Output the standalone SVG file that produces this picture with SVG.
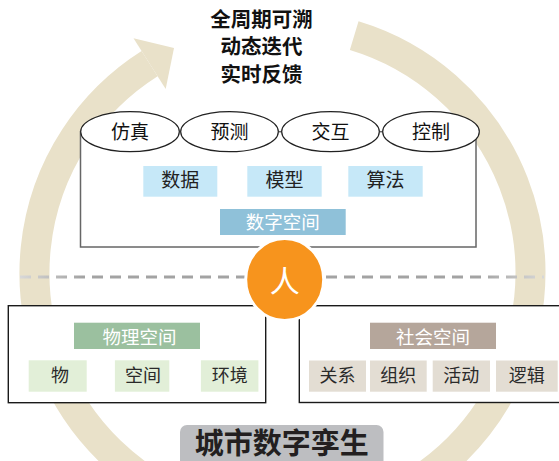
<svg xmlns="http://www.w3.org/2000/svg" width="559" height="461" viewBox="0 0 559 461">
<defs>
<linearGradient id="dashGrad" x1="20" y1="0" x2="544" y2="0" gradientUnits="userSpaceOnUse">
<stop offset="0" stop-color="#d8d8d8"/>
<stop offset="0.12" stop-color="#a3a3a3"/>
<stop offset="0.88" stop-color="#a3a3a3"/>
<stop offset="1" stop-color="#d8d8d8"/>
</linearGradient>
</defs>
<style>
.cjk{font-family:"Noto Sans CJK SC","Noto Sans",sans-serif;}
.head{font-size:20.5px;font-weight:bold;fill:#111;text-anchor:middle;}
.ell{fill:#fff;stroke:#222;stroke-width:1.2;}
.elt{font-size:19px;fill:#111;text-anchor:middle;}
.blue{fill:#c6e8f8;}
.bt{font-size:19px;fill:#222;text-anchor:middle;}
.hdr{font-size:18.5px;fill:#fff;text-anchor:middle;}
.box{fill:#fff;stroke:#1a1a1a;stroke-width:1.4;}
.grn{fill:#e2efd8;}
.tau{fill:#e3ddd3;}
.it{font-size:18px;fill:#2a2a2a;text-anchor:middle;}
</style>
<g id="ring">
<path d="M 354.2 35.6 A 248 248 0 1 1 149.6 63.6" fill="none" stroke="#e9e1c9" stroke-width="30"/>
<polygon points="133.5,38.3 174,48 165.7,88.9" fill="#e9e1c9"/>
</g>
<g id="header" class="cjk">
<text class="head" x="261.5" y="26.5">全周期可溯</text>
<text class="head" x="261.5" y="54">动态迭代</text>
<text class="head" x="261.5" y="81.5">实时反馈</text>
</g>
<g id="digital-space">
<rect x="80.5" y="131.7" width="395.5" height="115.3" fill="#fff" stroke="#666" stroke-width="1.5"/>
</g>
<g id="node-fangzhen"><ellipse class="ell" cx="130" cy="131.7" rx="49.3" ry="20"/><text class="cjk elt" x="130" y="139.3">仿真</text></g>
<g id="node-yuce"><ellipse class="ell" cx="229.5" cy="131.7" rx="48.8" ry="20"/><text class="cjk elt" x="229.5" y="139.3">预测</text></g>
<g id="node-jiaohu"><ellipse class="ell" cx="330.5" cy="131.7" rx="48.8" ry="20"/><text class="cjk elt" x="330.5" y="139.3">交互</text></g>
<g id="node-kongzhi"><ellipse class="ell" cx="431" cy="131.7" rx="48.3" ry="20"/><text class="cjk elt" x="431" y="139.3">控制</text></g>
<g id="node-shuju"><rect class="blue" x="143.3" y="166" width="74" height="30.7"/><text class="cjk bt" x="180.3" y="187">数据</text></g>
<g id="node-moxing"><rect class="blue" x="247.3" y="166" width="74.4" height="30.7"/><text class="cjk bt" x="284.5" y="187">模型</text></g>
<g id="node-suanfa"><rect class="blue" x="348.3" y="166" width="74.4" height="30.7"/><text class="cjk bt" x="385.5" y="187">算法</text></g>
<g id="node-shuzikongjian"><rect x="220" y="209" width="125.7" height="26" fill="#8fc1d9"/><text class="cjk hdr" x="282.8" y="228.5">数字空间</text></g>
<g id="connectors">
<line x1="20" y1="277" x2="544" y2="277" stroke="url(#dashGrad)" stroke-width="3" stroke-dasharray="11 7"/>
</g>
<g id="physical-space">
<rect class="box" x="8.3" y="305.7" width="257.4" height="97"/>
<rect x="74" y="322.7" width="126" height="26.3" fill="#9bc09f"/>
<text class="cjk hdr" x="139.5" y="343.5">物理空间</text>
</g>
<g id="node-wu"><rect class="grn" x="28.7" y="360.3" width="58" height="31.4"/><text class="cjk it" x="60" y="382">物</text></g>
<g id="node-kongjian"><rect class="grn" x="114.9" y="360.3" width="54.4" height="31.4"/><text class="cjk it" x="143" y="382">空间</text></g>
<g id="node-huanjing"><rect class="grn" x="200.9" y="360.3" width="57.5" height="31.4"/><text class="cjk it" x="229.7" y="382">环境</text></g>
<g id="social-space">
<rect class="box" x="299.3" y="305.7" width="270" height="96.8"/>
<rect x="370" y="322.7" width="126" height="26.3" fill="#b5a69b"/>
<text class="cjk hdr" x="433" y="343.5">社会空间</text>
</g>
<g id="node-guanxi"><rect class="tau" x="309" y="360.5" width="57" height="31.2"/><text class="cjk it" x="337.5" y="382">关系</text></g>
<g id="node-zuzhi"><rect class="tau" x="370" y="360.5" width="56.7" height="31.2"/><text class="cjk it" x="398.3" y="382">组织</text></g>
<g id="node-huodong"><rect class="tau" x="432.7" y="360.5" width="57.3" height="31.2"/><text class="cjk it" x="461.3" y="382">活动</text></g>
<g id="node-luoji"><rect class="tau" x="496" y="360.5" width="61.7" height="31.2"/><text class="cjk it" x="526.8" y="382">逻辑</text></g>
<g id="node-ren">
<ellipse cx="284.7" cy="279.5" rx="39" ry="41" fill="#f7941d" stroke="#fff" stroke-width="3"/>
<text class="cjk" x="284.7" y="292" font-size="30" fill="#fff" text-anchor="middle">人</text>
</g>
<g id="title">
<rect x="180" y="425" width="203.5" height="50" rx="7" fill="#bdbec1"/>
<text class="cjk" x="281.7" y="453.5" font-size="29" font-weight="bold" fill="#231f20" text-anchor="middle">城市数字孪生</text>
</g>
</svg>
